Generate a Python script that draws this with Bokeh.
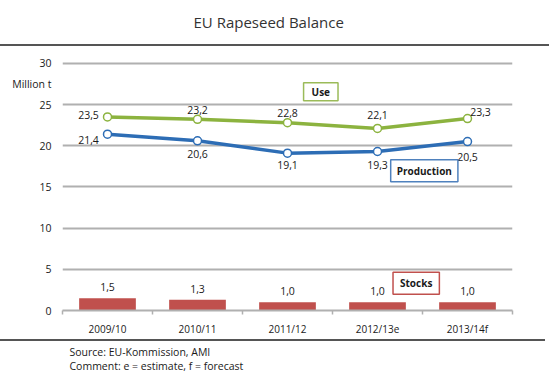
from bokeh.plotting import figure
from bokeh.models import (Range1d, FixedTicker, Label, Title, ColumnDataSource)
from bokeh.core.properties import value
from bokeh.embed import file_html
from bokeh.resources import INLINE

# ---- data ----
categories = ["2009/10", "2010/11", "2011/12", "2012/13e", "2013/14f"]
use = [23.5, 23.2, 22.8, 22.1, 23.3]
production = [21.4, 20.6, 19.1, 19.3, 20.5]
stocks = [1.5, 1.3, 1.0, 1.0, 1.0]
y_ticks = [0, 5, 10, 15, 20, 25, 30]
unit_label = "Million t"
title_text = "EU Rapeseed Balance"
source_lines = ["Source: EU-Kommission, AMI", "Comment: e = estimate, f = forecast"]

# ---- layout / label offsets (screen px), styling only ----
use_dx = [-19, 0, 0, 0, 13]
use_dy = [-2, -9, -10, -13, -7]
prod_dx = [-19, 0, 0, 0, 0]
prod_dy = [6, 13, 12, 14, 15]
UNIT_POS = 27.5
FRAME_TOP = 40
FRAME_BOTTOM = 64
Y_MAX = 30
PX_PER_UNIT = (376 - FRAME_BOTTOM - 63) / Y_MAX   # 30 sits at canvas y=63

FONT = "Open Sans"
TXT = "#1a1a1a"
GREEN = "#8cb33f"
BLUE = "#2d6db5"
RED = "#c0504d"
GRID = "#b0b0b0"

def fmt(v):
    return f"{v:.1f}".replace(".", ",")

xs = [i + 0.5 for i in range(len(categories))]
y_end = Y_MAX + (63 - FRAME_TOP) / PX_PER_UNIT

p = figure(width=549, height=376, output_backend="svg", toolbar_location=None,
           x_range=Range1d(0, len(categories)), y_range=Range1d(0, y_end),
           min_border_left=62, min_border_right=37, min_border_top=FRAME_TOP,
           min_border_bottom=FRAME_BOTTOM)
p.outline_line_color = None
p.background_fill_color = None
p.border_fill_color = None
# horizontal rules above and below the chart area
p.styles = {
    "background-color": "white",
    "background-image": "linear-gradient(#555555,#555555), linear-gradient(#555555,#555555)",
    "background-size": "549px 2px, 545px 2px",
    "background-position": "0px 44px, 0px 339px",
    "background-repeat": "no-repeat",
}

# title
p.title.text = title_text
p.title.align = "left"
p.title.offset = 131
p.title.standoff = 18
p.title.text_font = FONT
p.title.text_font_size = "15px"
p.title.text_font_style = "normal"
p.title.text_color = "#333333"

# axes
xa = p.xaxis[0]
xa.ticker = FixedTicker(ticks=xs, minor_ticks=list(range(len(categories) + 1)))
xa.major_label_overrides = {x: c for x, c in zip(xs, categories)}
xa.major_tick_out = 0
xa.major_tick_in = 0
xa.minor_tick_out = 4
xa.minor_tick_in = 0
xa.minor_tick_line_color = GRID
xa.minor_tick_line_width = 1.5
xa.axis_line_color = GRID
xa.axis_line_width = 2
xa.major_label_standoff = 7
xa.major_label_text_font = FONT
xa.major_label_text_font_size = "10px"
xa.major_label_text_color = TXT

ya = p.yaxis[0]
ya.ticker = FixedTicker(ticks=y_ticks + [UNIT_POS])
ya.major_label_overrides = {UNIT_POS: unit_label}
ya.axis_line_color = None
ya.major_tick_line_color = None
ya.minor_tick_line_color = None
ya.major_tick_out = 0
ya.major_tick_in = 0
ya.major_label_standoff = 11
ya.major_label_text_font = FONT
ya.major_label_text_font_size = "10.5px"
ya.major_label_text_color = TXT

p.xgrid.grid_line_color = None
p.ygrid.ticker = FixedTicker(ticks=y_ticks)
p.ygrid.grid_line_color = GRID
p.ygrid.grid_line_width = 2

# source lines
p.add_layout(Title(text="\n".join(source_lines), align="left", offset=7, standoff=8,
                   text_font=FONT, text_font_size="10.5px", text_font_style="normal",
                   text_color=TXT), "below")

# bars
bsrc = ColumnDataSource(dict(x=xs, top=stocks, lab=[fmt(v) for v in stocks]))
p.vbar(x="x", top="top", width=0.63, bottom=0, source=bsrc, fill_color=RED, line_color=None)
p.text(x="x", y="top", text="lab", source=bsrc, y_offset=-11, text_align="center",
       text_baseline="middle", text_font=value(FONT), text_font_size="10.5px", text_color=TXT)

# lines
usrc = ColumnDataSource(dict(x=xs, y=use, lab=[fmt(v) for v in use], dx=use_dx, dy=use_dy))
psrc = ColumnDataSource(dict(x=xs, y=production, lab=[fmt(v) for v in production], dx=prod_dx, dy=prod_dy))
for src, col in ((usrc, GREEN), (psrc, BLUE)):
    p.line("x", "y", source=src, line_color=col, line_width=3.5)
    p.scatter("x", "y", source=src, size=8, fill_color="white", line_color=col, line_width=1.5)
    p.text(x="x", y="y", text="lab", source=src, x_offset="dx", y_offset="dy", text_align="center",
           text_baseline="middle", text_font=value(FONT), text_font_size="10.5px", text_color=TXT)

# series boxes
def box(txt, x, y, col, pad):
    p.add_layout(Label(x=x, y=y, text=txt, text_align="center", text_baseline="middle",
                       text_font=FONT, text_font_size="10px", text_font_style="bold",
                       text_color=TXT, border_line_color=col, border_line_width=1.5,
                       background_fill_color="white", padding=pad))

box("Use", 2.87, 26.56, "#9bbb59", (8, 2))
box("Production", 4.02, 16.96, "#4f81bd", (6, 4))
box("Stocks", 3.93, 3.32, "#c0504d", (7, 4))

open("out.html", "w").write(file_html(p, INLINE))
